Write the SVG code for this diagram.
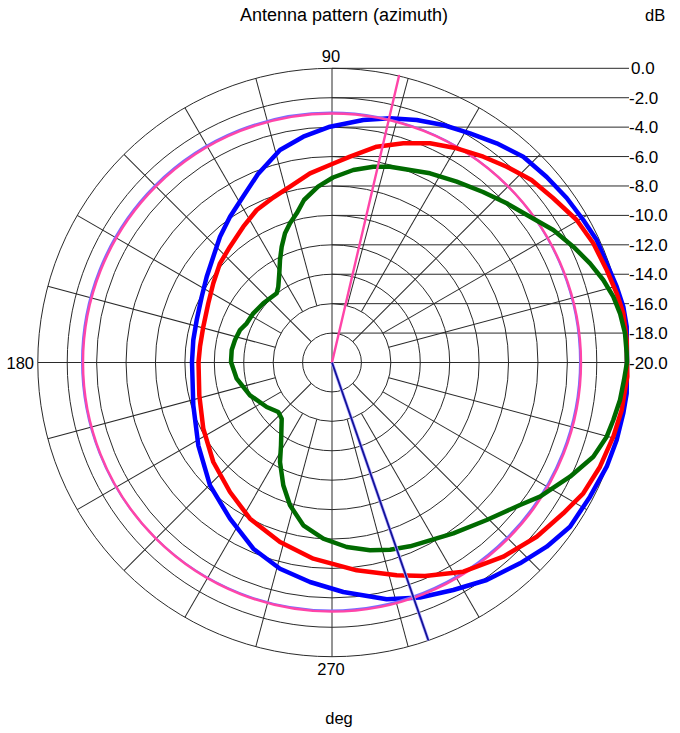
<svg xmlns="http://www.w3.org/2000/svg" width="680" height="733" viewBox="0 0 680 733">
<style>
text{font-family:"Liberation Sans",Arial,sans-serif;fill:#000}
.t{font-size:18px}
.a{font-size:16.5px}
.d{font-size:17px}
.g{fill:none;stroke:#2a2a2a;stroke-width:1}
.tr{fill:none;stroke-width:4.5;stroke-linejoin:round;stroke-linecap:round}
</style>
<rect x="0" y="0" width="680" height="733" fill="#fff"/>
<g id="grid" class="g">
<g transform="translate(332,362.5)">
<circle r="29.42"/><circle r="58.84"/><circle r="88.26"/><circle r="117.68"/><circle r="147.1"/>
<circle r="176.52"/><circle r="205.94"/><circle r="235.36"/><circle r="264.78"/><circle r="294.2"/>
<line x1="29.42" y1="0" x2="294.2" y2="0" transform="rotate(-45)"/>
<line x1="29.42" y1="0" x2="294.2" y2="0" transform="rotate(-135)"/>
<line x1="29.42" y1="0" x2="294.2" y2="0" transform="rotate(45)"/>
<line x1="29.42" y1="0" x2="294.2" y2="0" transform="rotate(135)"/>
<line x1="58.84" y1="0" x2="294.2" y2="0" transform="rotate(-15)"/>
<line x1="58.84" y1="0" x2="294.2" y2="0" transform="rotate(-30)"/>
<line x1="58.84" y1="0" x2="294.2" y2="0" transform="rotate(-60)"/>
<line x1="58.84" y1="0" x2="294.2" y2="0" transform="rotate(-75)"/>
<line x1="58.84" y1="0" x2="294.2" y2="0" transform="rotate(-105)"/>
<line x1="58.84" y1="0" x2="294.2" y2="0" transform="rotate(-120)"/>
<line x1="58.84" y1="0" x2="294.2" y2="0" transform="rotate(-150)"/>
<line x1="58.84" y1="0" x2="294.2" y2="0" transform="rotate(-165)"/>
<line x1="58.84" y1="0" x2="294.2" y2="0" transform="rotate(15)"/>
<line x1="58.84" y1="0" x2="294.2" y2="0" transform="rotate(30)"/>
<line x1="58.84" y1="0" x2="294.2" y2="0" transform="rotate(60)"/>
<line x1="58.84" y1="0" x2="294.2" y2="0" transform="rotate(75)"/>
<line x1="58.84" y1="0" x2="294.2" y2="0" transform="rotate(105)"/>
<line x1="58.84" y1="0" x2="294.2" y2="0" transform="rotate(120)"/>
<line x1="58.84" y1="0" x2="294.2" y2="0" transform="rotate(150)"/>
<line x1="58.84" y1="0" x2="294.2" y2="0" transform="rotate(165)"/>
</g>
<line x1="37.8" y1="362.5" x2="629" y2="362.5"/>
<line x1="332" y1="68.3" x2="332" y2="656.7"/>
<line x1="332" y1="68.3" x2="629" y2="68.3"/>
<line x1="332" y1="97.72" x2="629" y2="97.72"/>
<line x1="332" y1="127.14" x2="629" y2="127.14"/>
<line x1="332" y1="156.56" x2="629" y2="156.56"/>
<line x1="332" y1="185.98" x2="629" y2="185.98"/>
<line x1="332" y1="215.4" x2="629" y2="215.4"/>
<line x1="332" y1="244.82" x2="629" y2="244.82"/>
<line x1="332" y1="274.24" x2="629" y2="274.24"/>
<line x1="332" y1="303.66" x2="629" y2="303.66"/>
<line x1="332" y1="333.08" x2="629" y2="333.08"/>
</g>
<g id="traces">
<path id="trace-blue" class="tr" stroke="#0000ff" d="M627,362 L626.7,326.7 L623.3,306.7 L616.7,286.7 L606.7,263.3 L596.7,240 L583.3,220 L566.7,198 L546.7,177 L523.3,156.7 L496.7,143.3 L470,133.3 L443.3,125 L416.7,120 L390,118.3 L363.3,120 L330,126.7 L303.3,136.7 L280,150 L258,174 L243,196.7 L230,216.7 L220,236.7 L213.3,256.7 L206.7,276.7 L201.7,296.7 L196.7,320 L193.3,340 L192,362 L193.3,405.3 L198.3,445.3 L210,485.3 L230,518.7 L253.3,548.7 L280,568.7 L310,582 L343.3,592 L386.7,599.3 L420,597.5 L453.3,590 L486.7,580 L520,563.3 L546.7,546.7 L570,526.7 L590,496.7 L606.7,466.7 L616.7,440 L623.3,413.3 L626.7,393.3 Z"/>
<g id="trace-pink-circle" fill="none">
<circle cx="331" cy="361.5" r="249" stroke="#7a6cff" stroke-width="2"/>
<circle cx="332" cy="362.5" r="249" stroke="#ff45a8" stroke-width="2.4"/>
</g>
<path id="trace-red" class="tr" stroke="#ff0000" d="M627,362 L626.7,340 L623.3,313.3 L616.7,293.3 L606.7,270 L593.3,243.3 L576.7,220 L553,198 L531.5,180 L506.7,166.7 L483.3,156.7 L456.7,148.3 L430,143.3 L403.3,143.3 L376.7,146.7 L350,156.7 L331,164.5 L310,173.3 L290,186.7 L273.3,197.5 L256.7,210 L243.3,226.7 L230,246.7 L220,263.3 L213.3,283.3 L208.3,303.3 L203.3,326.7 L200,346.7 L198.5,362 L199.3,395.3 L203.3,428.7 L213.3,462 L230,492 L250,518.7 L280,542 L313.3,558.7 L356.7,570.3 L396.7,575.3 L425,576 L463.3,571.7 L503.3,556.7 L536.7,536.7 L563.3,513.3 L583.3,493.3 L600,466.7 L613.3,436.7 L621.7,410 L625,390 L627.3,376.7 Z"/>
<path id="trace-green" class="tr" stroke="#006a00" d="M627,362 L626.7,353.3 L625,333.3 L620,313.3 L613.3,296.7 L603.3,280 L590,263.3 L573.3,246.7 L553.3,230 L530,216.7 L506.7,203.3 L483,192 L456.7,181.7 L430,173.3 L410,170 L390,166.7 L373.3,166.7 L353.3,170 L333,177.5 L318,186.7 L304,200 L296.7,213.3 L290,223.3 L285,233.3 L281.7,246.7 L280,260 L279.3,273.3 L278.3,286.7 L276.7,293.3 L270,298.3 L263.3,303.3 L253.3,313.3 L246.7,323.3 L240,330 L235,340 L231.7,350 L231,362 L236.7,378.7 L250,395.3 L266.7,407 L278.3,412 L281.7,418.7 L281,445.3 L280,462 L283.3,485.3 L290,505.3 L303.3,525.3 L323.3,538.7 L346.7,547 L370,550.3 L390,549.7 L410,546.3 L425,541.8 L453.3,533.3 L486.7,520 L520,505 L540,496.7 L570,476.7 L593.3,456.7 L606.7,436.7 L613.3,420 L620,400 L624,380 Z"/>
<line id="ray-pink" x1="332" y1="362.5" x2="399" y2="76" stroke="#ff45a8" stroke-width="2.4" stroke-linecap="round"/>
<g id="ray-blue">
<line x1="332" y1="362.5" x2="428.4" y2="640.5" stroke="#b8b0ff" stroke-width="3.2"/>
<line x1="332" y1="362.5" x2="428.4" y2="640.5" stroke="#12129a" stroke-width="1.8"/>
</g>
</g>
<g id="labels">
<text class="t" x="240" y="21">Antenna pattern (azimuth)</text>
<text class="a" x="645" y="21">dB</text>
<text class="a" x="331" y="62" text-anchor="middle">90</text>
<text class="a" x="34" y="369" text-anchor="end">180</text>
<text class="a" x="331" y="675" text-anchor="middle">270</text>
<text class="a" x="339" y="724" text-anchor="middle">deg</text>
<text class="d" x="631" y="74.3">0.0</text>
<text class="d" x="629" y="103.7">-2.0</text>
<text class="d" x="629" y="133.1">-4.0</text>
<text class="d" x="629" y="162.6">-6.0</text>
<text class="d" x="629" y="192">-8.0</text>
<text class="d" x="629" y="221.4">-10.0</text>
<text class="d" x="629" y="250.8">-12.0</text>
<text class="d" x="629" y="280.2">-14.0</text>
<text class="d" x="629" y="309.7">-16.0</text>
<text class="d" x="629" y="339.1">-18.0</text>
<text class="d" x="629" y="368.5">-20.0</text>
</g>
</svg>
